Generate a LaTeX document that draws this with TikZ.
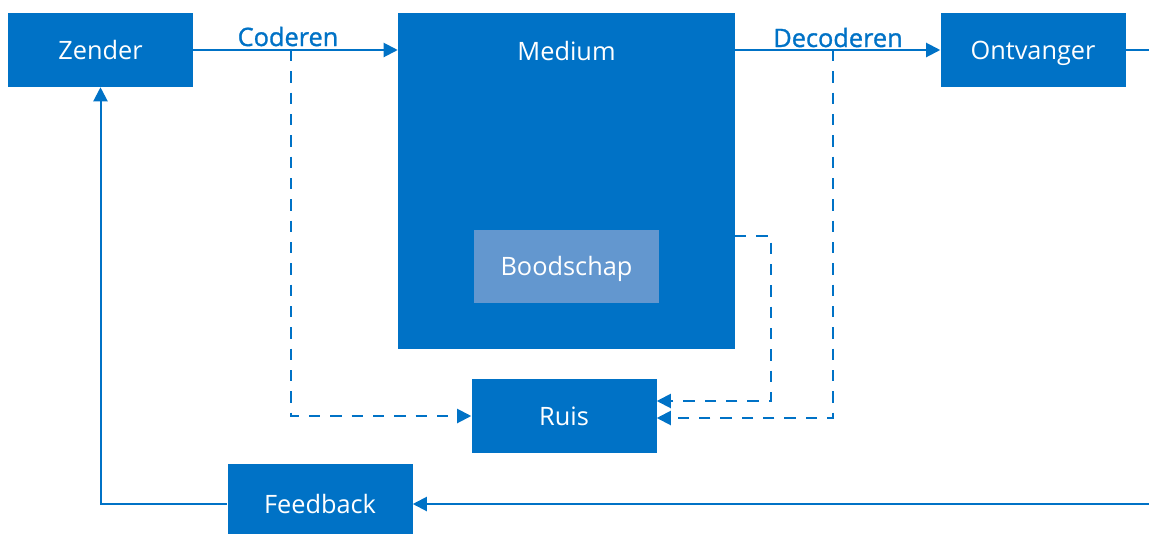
\documentclass[tikz,border=0pt]{standalone}
\usepackage{fontspec}
\setmainfont{Open Sans}
\newfontfamily\tagfont{Open Sans}[FakeBold=1.2]
\definecolor{primary}{RGB}{0, 114, 198}
\definecolor{light}{RGB}{99, 151, 207}
\usetikzlibrary{arrows.meta}

\begin{document}
\begin{tikzpicture}[x=0.75pt, y=-0.75pt,
    every node/.style={font=\fontsize{19}{23}\selectfont, text height=13.6pt, text depth=0pt},
    box/.style={fill=primary, text=white, minimum width=138.75pt, minimum height=55.5pt, inner sep=0pt},
    flow/.style={primary, line width=1.5pt, -{Triangle[length=10.5pt, width=10.5pt]}},
    noise/.style={flow, dash pattern=on 8.5pt off 7.5pt},
    tag/.style={text=primary, anchor=base, font=\fontsize{19}{23}\tagfont}]
  \clip (0,0) rectangle (1149,533);

  % Boxes
  \node[box] (zender) at (100.5,50) {Zender};
  \node[box, minimum width=252.75pt, minimum height=252pt] (medium) at (566.5,181) {};
  \node[text=white] (mediumtitle) at (566.5,51) {Medium};
  \node[box, fill=light, minimum height=54.75pt] (boodschap) at (566.5,266.5) {Boodschap};
  \node[box] (ontvanger) at (1033,50) {Ontvanger};
  \node[box] (ruis) at (564,416) {Ruis};
  \node[box, minimum height=60pt] (feedback) at (320,504) {Feedback};

  % Labels
  \node[tag] (coderen) at (288,46) {Coderen};
  \node[tag] (decoderen) at (838,47) {Decoderen};

  % Main flow
  \coordinate (loopout) at (1160,50);
  \coordinate (loopin) at (1160,504);
  \draw[flow] (zender.east) -- (zender -| medium.west);
  \draw[flow] (ontvanger -| medium.east) -- (ontvanger.west);
  \draw[primary, line width=1.5pt] (ontvanger.east) -- (loopout);
  \draw[flow] (loopin) -- (feedback.east);
  \draw[flow] (feedback.west) -| (zender.south);

  % Noise
  \coordinate (codtap) at (291,50);
  \coordinate (medtap) at (735,236);
  \coordinate (dectap) at (833,50);
  \draw[noise] (codtap) |- (ruis.west);
  \draw[noise] (medtap) -- ++(36,0) |- ([yshift=11.25pt]ruis.east);
  \draw[noise] (dectap) |- ([yshift=-1.5pt]ruis.east);
\end{tikzpicture}
\end{document}
